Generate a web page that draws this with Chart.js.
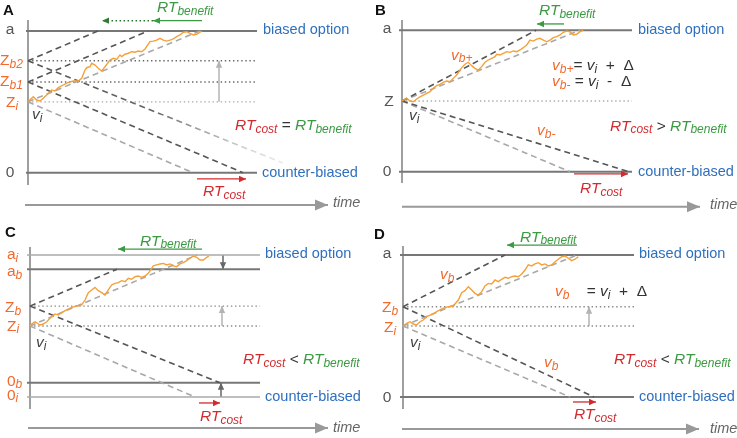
<!DOCTYPE html>
<html><head><meta charset="utf-8">
<script src="https://cdn.jsdelivr.net/npm/chart.js@4.4.0/dist/chart.umd.min.js"></script>
<style>
html,body{margin:0;padding:0;background:#fff;}
#wrap{position:relative;width:737px;height:438px;overflow:hidden;background:#fff;}
canvas{position:absolute;}
</style></head><body>
<div id="wrap">
<canvas id="cA" width="368" height="219" style="left:0;top:0;width:368px;height:219px"></canvas>
<canvas id="cB" width="370" height="219" style="left:367px;top:0;width:370px;height:219px"></canvas>
<canvas id="cC" width="368" height="219" style="left:0;top:219px;width:368px;height:219px"></canvas>
<canvas id="cD" width="370" height="219" style="left:367px;top:219px;width:370px;height:219px"></canvas>
</div>
<script>
// ---------------- DATA (time t, decision value v: 0 = counter-biased bound, 1 = biased bound) ----------------
// Panel A
const walkA_t = [0,5.3,8.7,12,15.3,18.7,23.7,27,30.3,35.3,40.3,45.3,50.3,53.7,57,58.7,62,63.7,67,70.3,73.7,77,82,85.3,88.7,92,93.7,97,100.3,103.7,107,110.3,113.7,117,122,125.3,128.7,132,135.3,138.7,142,145.3,148.7,152,155.3,158.7,162,165.3,168.7,172,173.7];
const walkA_v = [0.5,0.536,0.513,0.506,0.525,0.548,0.584,0.577,0.6,0.619,0.638,0.647,0.647,0.666,0.725,0.741,0.748,0.772,0.76,0.737,0.718,0.748,0.795,0.807,0.8,0.831,0.819,0.836,0.843,0.854,0.85,0.859,0.854,0.873,0.925,0.929,0.936,0.948,0.936,0.929,0.936,0.944,0.96,0.972,0.991,0.995,0.984,0.972,0.977,0.991,1.0];
const A_starts   = [0.5, 0.64, 0.79];      // Z_i, Z_b1, Z_b2
const A_upHit_t  = [172, 120, 70];         // time at which drift lines reach a
const A_down_t   = [165, 215, 255];        // end of downward drift lines
const A_down_v   = [0, 0, 0.068];
const A_arrowShift = [0.5, 0.79];          // gray arrow Z_i -> Z_b2
const A_benefit_t = [174, 125, 74];        // green RT_benefit arrow (solid, then dotted)
const A_cost_t    = [169, 218];            // red RT_cost arrow

// Panel B
const walkB_t = [0,1.3,4.7,8,11.3,14.7,18,21.3,24.7,28,31.3,34.7,38,41.3,44.7,48,51.3,54.7,58,59.7,63,66.3,69.7,73,76.3,79.7,83,86.3,89.7,93,94.7,98,101.3,104.7,108,111.3,114.7,118,121.3,124.7,128,131.3,134.7,138,141.3,144.7,148,151.3,154.7,158,161.3,164.7,168,171.3,174.7,178,181.3];
const walkB_v = [0.5,0.507,0.519,0.5,0.495,0.514,0.53,0.542,0.554,0.566,0.59,0.608,0.618,0.632,0.641,0.636,0.66,0.684,0.719,0.736,0.76,0.774,0.75,0.731,0.719,0.743,0.774,0.79,0.802,0.813,0.83,0.825,0.837,0.849,0.844,0.854,0.849,0.861,0.877,0.896,0.931,0.924,0.938,0.943,0.931,0.919,0.931,0.948,0.955,0.967,0.986,0.995,0.99,0.967,0.972,0.99,1.0];
const B_start = 0.5;
const B_up_t   = [134, 178];   // v_b+ , v_i reach a
const B_down_t = [227, 168];   // v_b- , v_i reach 0
const B_benefit_t = [162, 135];
const B_cost_t    = [172, 226];

// Panel C
const walkC_t = [0,1.7,5,10,13.3,16.7,21.7,25,28.3,31.7,36.7,41.7,46.7,51.7,55,58.3,61.7,65,68.3,71.7,75,78.3,81.7,85,88.3,91.7,95,98.3,101.7,105,108.3,111.7,115,118.3,123.3,126.7,130,133.3,136.7,140,143.3,146.7,150,153.3,156.7,160,163.3,166.7,170,173.3,176.7,179];
const walkC_v = [0.5,0.514,0.53,0.507,0.514,0.53,0.566,0.585,0.577,0.594,0.613,0.631,0.641,0.648,0.683,0.735,0.754,0.772,0.749,0.735,0.718,0.754,0.789,0.8,0.805,0.819,0.812,0.836,0.829,0.847,0.852,0.843,0.852,0.871,0.923,0.93,0.937,0.941,0.93,0.937,0.923,0.918,0.937,0.946,0.96,0.977,0.993,0.984,0.965,0.965,0.984,0.993];
const C_bounds = [1, 0.9, 0.1, 0];   // a_i, a_b, 0_b, 0_i
const C_starts = [0.5, 0.64];        // Z_i, Z_b
const C_up_t   = [167, 87];          // Z_i -> a_i , Z_b -> a_b
const C_down_t = [165, 190];         // Z_i -> 0_i , Z_b -> 0_b
const C_benefit_t = [172, 88];
const C_cost_t    = [169, 190];

// Panel D
const walkD_t = [0,3.7,7,10.3,13.7,17,20.3,23.7,27,30.3,33.7,37,40.3,45.3,50.3,55.3,58.7,62,65.3,68.7,72,75.3,78.7,82,85.3,88.7,92,95.3,98.7,102,105.3,108.7,112,115.3,118.7,122,125.3,128.7,132,135.3,138.7,142,145.3,148.7,152,155.3,158.7,162,165.3,168.7,172,175.3];
const walkD_v = [0.5,0.519,0.53,0.514,0.507,0.53,0.542,0.566,0.577,0.585,0.601,0.613,0.625,0.636,0.641,0.683,0.735,0.749,0.777,0.754,0.73,0.718,0.742,0.782,0.8,0.796,0.824,0.812,0.829,0.843,0.836,0.847,0.852,0.847,0.866,0.894,0.93,0.923,0.937,0.946,0.93,0.937,0.923,0.93,0.953,0.97,0.988,0.993,0.977,0.96,0.97,0.988];
const D_starts = [0.5, 0.636];       // Z_i, Z_b
const D_up_t   = [174, 102];
const D_down_t = [167, 191];
const D_benefit_t = [174, 104];
const D_cost_t    = [170, 193];

// ---------------- STYLE ----------------
const OR = '#f26a2e', BLUE = '#2f6fbd', GREEN = '#3b9a42', RED = '#d42a2e', DG = '#444';
const FONT = '"Liberation Sans", Arial, Helvetica, sans-serif';
const ST = {
  bound:     {c:'#777', w:2},
  boundLt:   {c:'#aaa', w:1.5},
  axis:      {c:'#888', w:1.6},
  dotDark:   {c:'#666', w:1.4, d:[1.4,2.7]},
  dotMid:    {c:'#888', w:1.4, d:[1.4,2.7]},
  dotLight:  {c:'#aaa', w:1.4, d:[1.4,2.7]},
  dashDark:  {c:'#555', w:1.6, d:[6,4]},
  dashLight: {c:'#a8a8a8', w:1.6, d:[6,4]},
  walk:      {c:'#f5a038', w:1.4},
  green:     {c:GREEN, w:1.3},
  greenDot:  {c:'#2e7d32', w:1.5, d:[1.5,2.5]},
  red:       {c:RED, w:1.3},
  grayArr:   {c:'#b3b3b3', w:1.5},
  darkArr:   {c:'#666', w:1.5},
  time:      {c:'#999', w:2}
};

function pts(ts, vs){ return ts.map((t,i)=>({x:t, y:vs[i]})); }
function seg(x1,y1,x2,y2){ return [{x:x1,y:y1},{x:x2,y:y2}]; }
function ds(data, st, extra){
  return Object.assign({data, showLine:true, pointRadius:0, pointHoverRadius:0, fill:false, tension:0,
    borderColor:st.c, borderWidth:st.w, borderDash:st.d||[], borderCapStyle:'butt'}, extra||{});
}
const ARR_S = {arrow:{len:7, half:3.2}};
const ARR_T = {arrow:{len:13, half:5.5}};

function fadeColor(x1, x2){
  return (c)=>{
    const ch = c.chart, xs = ch.scales && ch.scales.x;
    if(!xs || !ch.chartArea) return '#555';
    const g = ch.ctx.createLinearGradient(xs.getPixelForValue(x1),0,xs.getPixelForValue(x2),0);
    g.addColorStop(0,'#555'); g.addColorStop(0.5,'#666'); g.addColorStop(1,'rgba(215,215,215,0.5)');
    return g;
  };
}

function overlay(items){
  return {id:'overlay', afterDatasetsDraw(chart){
    const ctx = chart.ctx, xs = chart.scales.x, ys = chart.scales.y;
    // arrowheads
    chart.data.datasets.forEach((d,i)=>{
      if(!d.arrow) return;
      const el = chart.getDatasetMeta(i).data; const n = el.length;
      const p = el[n-1], q = el[n-2];
      const a = Math.atan2(p.y-q.y, p.x-q.x);
      ctx.save(); ctx.translate(p.x,p.y); ctx.rotate(a);
      ctx.fillStyle = typeof d.borderColor === 'string' ? d.borderColor : '#555';
      ctx.beginPath(); ctx.moveTo(0,0); ctx.lineTo(-d.arrow.len, d.arrow.half); ctx.lineTo(-d.arrow.len, -d.arrow.half); ctx.closePath(); ctx.fill();
      ctx.restore();
    });
    // rich text
    items.forEach(it=>{
      const size = it.size || 15.5, sub = Math.round(size*0.8);
      const fontOf = f => (f.includes('i')?'italic ':'') + (f.includes('b')?'bold ':'') + (f.includes('s')?sub:size) + 'px ' + FONT;
      ctx.save(); ctx.textBaseline = 'alphabetic'; ctx.textAlign = 'left';
      let w = 0; const ws = it.parts.map(p=>{ ctx.font = fontOf(p[2]); const m = ctx.measureText(p[0]).width; w += m; return m; });
      let x = xs.getPixelForValue(it.x); const y = ys.getPixelForValue(it.y);
      if(it.align === 'center') x -= w/2; else if(it.align === 'right') x -= w;
      it.parts.forEach((p,k)=>{
        ctx.font = fontOf(p[2]); ctx.fillStyle = p[1];
        ctx.fillText(p[0], x, y + (p[2].includes('s') ? size*0.18 : 0));
        x += ws[k];
      });
      ctx.restore();
    });
  }};
}

function makeChart(id, xr, yr, datasets, items){
  new Chart(document.getElementById(id), {
    type:'scatter',
    data:{datasets},
    options:{responsive:false, animation:false, devicePixelRatio:1, events:[],
      layout:{padding:0},
      plugins:{legend:{display:false}, tooltip:{enabled:false}},
      scales:{x:{type:'linear', display:false, min:xr[0], max:xr[1]},
              y:{type:'linear', display:false, min:yr[0], max:yr[1]}}},
    plugins:[overlay(items)]
  });
}
const rtC = [['RT',RED,'i'],['cost',RED,'is']];
const rtB = [['RT',GREEN,'i'],['benefit',GREEN,'is']];
const vi  = [['v',DG,'i'],['i',DG,'is']];

// ---------------- PANEL A ----------------
makeChart('cA', [-28,340], [-0.3267,1.2188], [
  ds(pts(walkA_t, walkA_v), ST.walk),
  ds(seg(0,A_starts[2],A_upHit_t[2],1), ST.dashDark),
  ds(seg(0,A_starts[1],A_upHit_t[1],1), ST.dashDark),
  ds(seg(0,A_starts[0],A_upHit_t[0],1), ST.dashLight),
  ds(seg(0,A_starts[2],A_down_t[2],A_down_v[2]), ST.dashDark, {borderColor: fadeColor(0, A_down_t[2])}),
  ds(seg(0,A_starts[1],A_down_t[1],A_down_v[1]), ST.dashDark),
  ds(seg(0,A_starts[0],A_down_t[0],A_down_v[0]), ST.dashLight),
  ds(seg(0,A_starts[2],229,A_starts[2]), ST.dotDark),
  ds(seg(0,A_starts[1],229,A_starts[1]), ST.dotDark),
  ds(seg(0,A_starts[0],229,A_starts[0]), ST.dotLight),
  ds(seg(-2,1,229,1), ST.bound),
  ds(seg(-2,0,229,0), ST.bound),
  ds(seg(0,1.078,0,-0.087), ST.axis),
  ds(seg(191,A_arrowShift[0],191,A_arrowShift[1]), ST.grayArr, ARR_S),
  ds(seg(A_benefit_t[0],1.073,A_benefit_t[1],1.073), ST.green, ARR_S),
  ds(seg(A_benefit_t[1],1.073,A_benefit_t[2],1.073), ST.greenDot, ARR_S),
  ds(seg(A_cost_t[0],-0.044,A_cost_t[1],-0.044), ST.red, ARR_S),
  ds(seg(-3,-0.228,300,-0.228), ST.time, ARR_T)
], [
  {x:-25, y:1.113, size:15, parts:[['A','#111','b']]},
  {x:-18, y:0.979, align:'center', parts:[['a','#555','']]},
  {x:-18, y:-0.028, align:'center', parts:[['0','#555','']]},
  {x:-28, y:0.760, parts:[['Z',OR,''],['b2',OR,'is']]},
  {x:-28, y:0.612, parts:[['Z',OR,''],['b1',OR,'is']]},
  {x:-22, y:0.461, parts:[['Z',OR,''],['i',OR,'is']]},
  {x:4, y:0.379, parts:vi},
  {x:235, y:0.977, size:14.5, parts:[['biased option',BLUE,'']]},
  {x:234, y:-0.028, size:14.5, parts:[['counter-biased',BLUE,'']]},
  {x:305, y:-0.244, size:14.5, parts:[['time','#666','i']]},
  {x:129, y:1.132, parts:rtB},
  {x:175, y:-0.165, parts:rtC},
  {x:207, y:0.301, parts:[...rtC,[' = ','#333',''],...rtB]}
]);

// ---------------- PANEL B ----------------
makeChart('cB', [-35,335], [-0.3345,1.2143], [
  ds(pts(walkB_t, walkB_v), ST.walk),
  ds(seg(0,B_start,B_up_t[0],1), ST.dashDark),
  ds(seg(0,B_start,B_up_t[1],1), ST.dashLight),
  ds(seg(0,B_start,B_down_t[0],0), ST.dashDark),
  ds(seg(0,B_start,B_down_t[1],0), ST.dashLight),
  ds(seg(0,B_start,230,B_start), ST.dotLight),
  ds(seg(-3,1,230,1), ST.bound),
  ds(seg(-3,0,230,0), ST.bound),
  ds(seg(0,1.072,0,-0.08), ST.axis),
  ds(seg(B_benefit_t[0],1.045,B_benefit_t[1],1.045), ST.green, ARR_S),
  ds(seg(B_cost_t[0],-0.016,B_cost_t[1],-0.016), ST.red, ARR_S),
  ds(seg(0,-0.2475,298,-0.2475), ST.time, ARR_T)
], [
  {x:-27, y:1.108, size:15, parts:[['B','#111','b']]},
  {x:-15, y:0.979, align:'center', parts:[['a','#555','']]},
  {x:-13, y:0.465, align:'center', parts:[['Z','#555','']]},
  {x:-15, y:-0.03, align:'center', parts:[['0','#555','']]},
  {x:49, y:0.793, parts:[['v',OR,'i'],['b+',OR,'is']]},
  {x:150, y:0.719, parts:[['v',OR,'i'],['b+',OR,'is'],['= ','#333',''],['v','#333','i'],['i','#333','is'],['  +  ','#333',''],['\u0394','#333','']]},
  {x:150, y:0.606, parts:[['v',OR,'i'],['b-',OR,'is'],[' = ','#333',''],['v','#333','i'],['i','#333','is'],['  -  ','#333',''],['\u0394','#333','']]},
  {x:7, y:0.366, parts:vi},
  {x:208, y:0.29, parts:[...rtC,[' > ','#333',''],...rtB]},
  {x:135, y:0.26, parts:[['v',OR,'i'],['b-',OR,'is']]},
  {x:137, y:1.108, parts:rtB},
  {x:178, y:-0.153, parts:rtC},
  {x:236, y:0.972, size:14.5, parts:[['biased option',BLUE,'']]},
  {x:236, y:-0.03, size:14.5, parts:[['counter-biased',BLUE,'']]},
  {x:308, y:-0.264, size:14.5, parts:[['time','#666','i']]}
]);

// ---------------- PANEL C ----------------
makeChart('cC', [-30,338], [-0.2887,1.2535], [
  ds(pts(walkC_t, walkC_v), ST.walk),
  ds(seg(0,C_starts[1],C_up_t[1],C_bounds[1]), ST.dashDark),
  ds(seg(0,C_starts[0],C_up_t[0],C_bounds[0]), ST.dashLight),
  ds(seg(0,C_starts[1],C_down_t[1],C_bounds[2]), ST.dashDark),
  ds(seg(0,C_starts[0],C_down_t[0],C_bounds[3]), ST.dashLight),
  ds(seg(0,C_starts[1],230,C_starts[1]), ST.dotMid),
  ds(seg(0,C_starts[0],230,C_starts[0]), ST.dotMid),
  ds(seg(-3,C_bounds[0],230,C_bounds[0]), ST.boundLt),
  ds(seg(-3,C_bounds[1],230,C_bounds[1]), ST.bound),
  ds(seg(-3,C_bounds[2],230,C_bounds[2]), ST.bound),
  ds(seg(-3,C_bounds[3],230,C_bounds[3]), ST.boundLt),
  ds(seg(0,1.056,0,-0.0845), ST.axis),
  ds(seg(193,C_bounds[0],193,C_bounds[1]), ST.darkArr, ARR_S),
  ds(seg(192,C_starts[0],192,C_starts[1]), ST.grayArr, ARR_S),
  ds(seg(191,C_bounds[3],191,C_bounds[2]), ST.darkArr, ARR_S),
  ds(seg(C_benefit_t[0],1.042,C_benefit_t[1],1.042), ST.green, ARR_S),
  ds(seg(C_cost_t[0],-0.042,C_cost_t[1],-0.042), ST.red, ARR_S),
  ds(seg(-2,-0.218,298,-0.218), ST.time, ARR_T)
], [
  {x:-25, y:1.125, size:15, parts:[['C','#111','b']]},
  {x:-23, y:0.972, parts:[['a',OR,''],['i',OR,'is']]},
  {x:-23, y:0.85, parts:[['a',OR,''],['b',OR,'is']]},
  {x:-25, y:0.60, parts:[['Z',OR,''],['b',OR,'is']]},
  {x:-23, y:0.467, parts:[['Z',OR,''],['i',OR,'is']]},
  {x:-23, y:0.08, parts:[['0',OR,''],['b',OR,'is']]},
  {x:-23, y:-0.019, parts:[['0',OR,''],['i',OR,'is']]},
  {x:6, y:0.35, parts:vi},
  {x:213, y:0.232, parts:[...rtC,[' < ','#333',''],...rtB]},
  {x:110, y:1.066, parts:rtB},
  {x:170, y:-0.167, parts:rtC},
  {x:235, y:0.977, size:14.5, parts:[['biased option',BLUE,'']]},
  {x:235, y:-0.026, size:14.5, parts:[['counter-biased',BLUE,'']]},
  {x:303, y:-0.246, size:14.5, parts:[['time','#666','i']]}
]);

// ---------------- PANEL D ----------------
makeChart('cD', [-36,334], [-0.2887,1.2535], [
  ds(pts(walkD_t, walkD_v), ST.walk),
  ds(seg(0,D_starts[1],D_up_t[1],1), ST.dashDark),
  ds(seg(0,D_starts[0],D_up_t[0],1), ST.dashLight),
  ds(seg(0,D_starts[1],D_down_t[1],0), ST.dashDark),
  ds(seg(0,D_starts[0],D_down_t[0],0), ST.dashLight),
  ds(seg(0,D_starts[1],231,D_starts[1]), ST.dotMid),
  ds(seg(0,D_starts[0],231,D_starts[0]), ST.dotMid),
  ds(seg(-3,1,231,1), ST.bound),
  ds(seg(-3,0,231,0), ST.bound),
  ds(seg(0,1.063,0,-0.0845), ST.axis),
  ds(seg(186,D_starts[0],186,D_starts[1]), ST.grayArr, ARR_S),
  ds(seg(D_benefit_t[0],1.07,D_benefit_t[1],1.07), ST.green, ARR_S),
  ds(seg(D_cost_t[0],-0.035,D_cost_t[1],-0.035), ST.red, ARR_S),
  ds(seg(-1,-0.225,296,-0.225), ST.time, ARR_T)
], [
  {x:-29, y:1.113, size:15, parts:[['D','#111','b']]},
  {x:-16, y:0.977, align:'center', parts:[['a','#555','']]},
  {x:-21, y:0.596, parts:[['Z',OR,''],['b',OR,'is']]},
  {x:-19, y:0.456, parts:[['Z',OR,''],['i',OR,'is']]},
  {x:-16, y:-0.033, align:'center', parts:[['0','#555','']]},
  {x:37, y:0.831, parts:[['v',OR,'i'],['b',OR,'is']]},
  {x:152, y:0.709, parts:[['v',OR,'i'],['b',OR,'is'],['    = ','#333',''],['v','#333','i'],['i','#333','is'],['  +  ','#333',''],['\u0394','#333','']]},
  {x:7, y:0.35, parts:vi},
  {x:211, y:0.232, parts:[...rtC,[' < ','#333',''],...rtB]},
  {x:141, y:0.209, parts:[['v',OR,'i'],['b',OR,'is']]},
  {x:117, y:1.094, parts:rtB},
  {x:171, y:-0.155, parts:rtC},
  {x:236, y:0.977, size:14.5, parts:[['biased option',BLUE,'']]},
  {x:236, y:-0.026, size:14.5, parts:[['counter-biased',BLUE,'']]},
  {x:307, y:-0.254, size:14.5, parts:[['time','#666','i']]}
]);
</script>
</body></html>
